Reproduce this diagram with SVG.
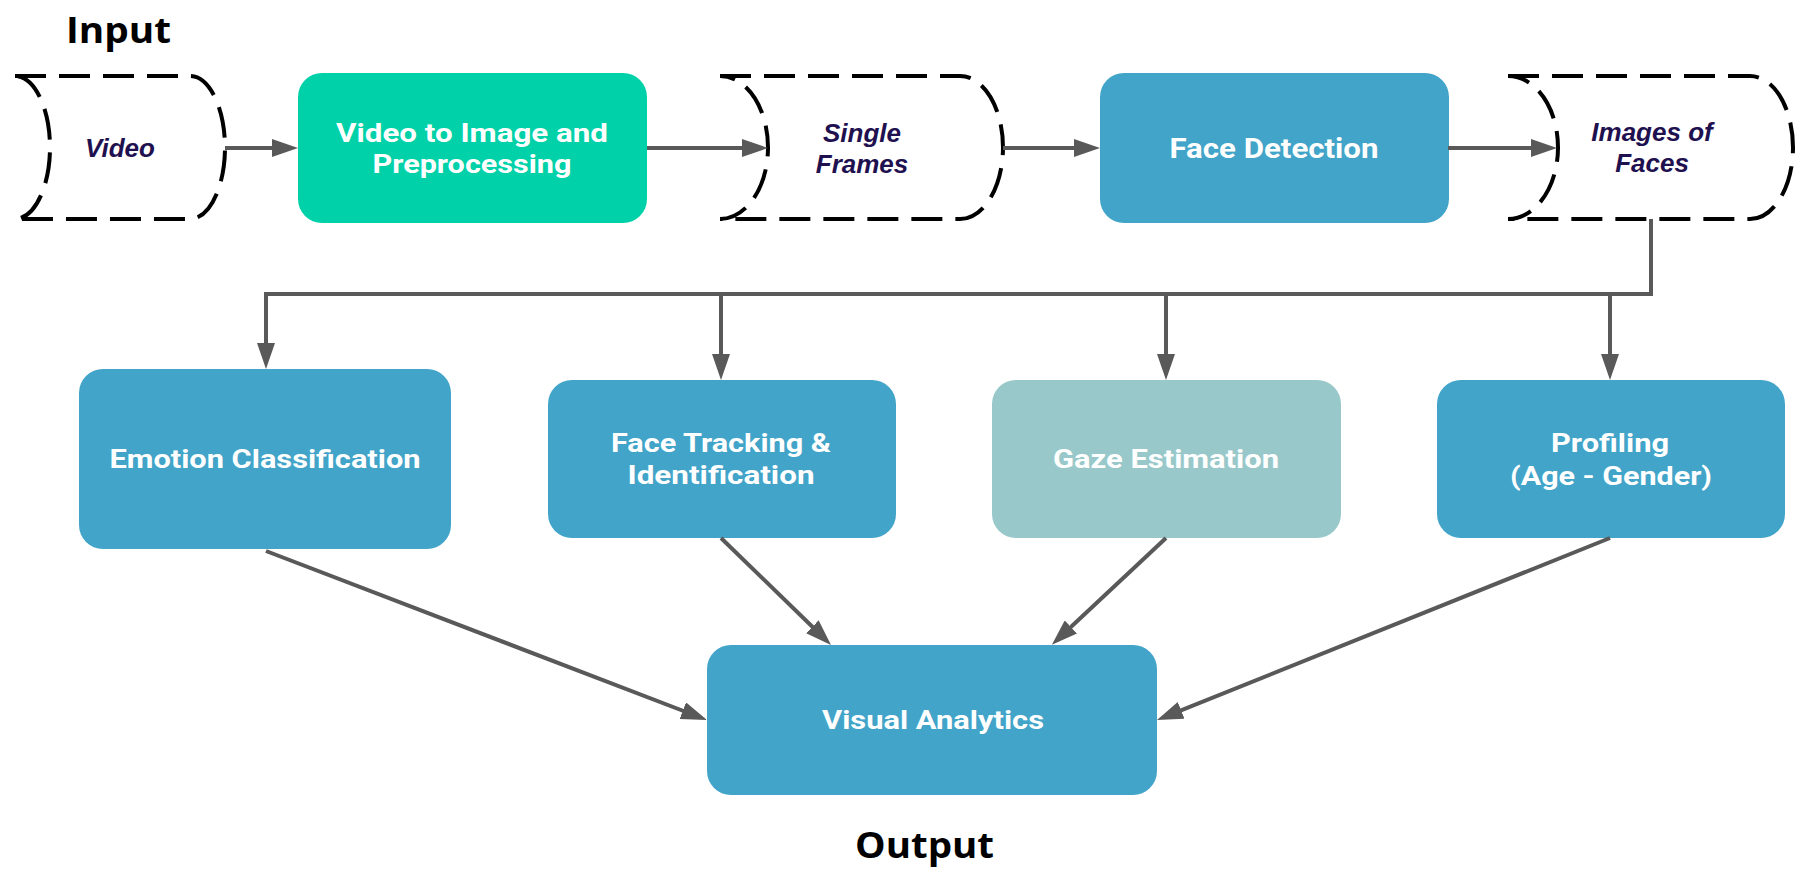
<svg xmlns="http://www.w3.org/2000/svg" width="1818" height="881" viewBox="0 0 1818 881">
<style>
.store{fill:none;stroke:#000;stroke-width:4;stroke-dasharray:31 13}
.ital{font-family:"Liberation Sans",Arial,sans-serif;font-weight:bold;font-style:italic;font-size:26px;fill:#1f1150;text-anchor:middle}
.lbl{font-family:Roboto,"Open Sans",sans-serif;font-weight:bold;font-size:26px;fill:#fff;text-anchor:middle}
.big{font-size:27px}
.title{font-family:"Open Sans","Noto Sans",sans-serif;font-weight:bold;font-size:36px;fill:#000}
.blue{fill:#41a4c8}
.conn{fill:none;stroke:#595959;stroke-width:4}
</style>
<defs>
<marker id="ah" markerUnits="userSpaceOnUse" markerWidth="26" markerHeight="18" refX="19" refY="9" orient="auto">
<path d="M0,0 L26,9 L0,18 Z" fill="#595959"/>
</marker>
</defs>
<rect width="1818" height="881" fill="#fff"/>
<text class="title" x="66" y="43" textLength="105" lengthAdjust="spacingAndGlyphs">Input</text>
<text class="title" x="855" y="858" textLength="139" lengthAdjust="spacingAndGlyphs">Output</text>
<g id="video">
<path class="store" d="M15,76 H190 A35,71.5 0 0 1 190,219 H15 A35,71.5 0 0 0 15,76 Z"/>
<text class="ital" x="120" y="157">Video</text>
</g>
<g id="preprocess">
<rect x="298" y="73" width="349" height="150" rx="24" fill="#00d1a8"/>
<text class="lbl" x="472" y="142" textLength="272" lengthAdjust="spacingAndGlyphs">Video to Image and</text>
<text class="lbl" x="472" y="173" textLength="199" lengthAdjust="spacingAndGlyphs">Preprocessing</text>
</g>
<g id="frames">
<path class="store" d="M720,76 H960 A43,71.5 0 0 1 960,219 H720 A48,71.5 0 0 0 720,76 Z"/>
<text class="ital" x="862" y="142">Single</text>
<text class="ital" x="862" y="173">Frames</text>
</g>
<g id="facedet">
<rect x="1100" y="73" width="349" height="150" rx="24" class="blue"/>
<text class="lbl big" x="1274" y="158" textLength="209" lengthAdjust="spacingAndGlyphs">Face Detection</text>
</g>
<g id="faces">
<path class="store" d="M1508,76 H1750 A43,71.5 0 0 1 1750,219 H1508 A50,71.5 0 0 0 1508,76 Z"/>
<text class="ital" x="1652" y="141">Images of</text>
<text class="ital" x="1652" y="172">Faces</text>
</g>
<g id="emotion">
<rect x="79" y="369" width="372" height="180" rx="24" class="blue"/>
<text class="lbl" x="265" y="468" textLength="311" lengthAdjust="spacingAndGlyphs">Emotion Classification</text>
</g>
<g id="tracking">
<rect x="548" y="380" width="348" height="158" rx="24" class="blue"/>
<text class="lbl" x="721" y="452" textLength="220" lengthAdjust="spacingAndGlyphs">Face Tracking &amp;</text>
<text class="lbl" x="721" y="484" textLength="187" lengthAdjust="spacingAndGlyphs">Identification</text>
</g>
<g id="gaze">
<rect x="992" y="380" width="349" height="158" rx="24" fill="#98c8ca"/>
<text class="lbl" x="1166" y="468" textLength="226" lengthAdjust="spacingAndGlyphs">Gaze Estimation</text>
</g>
<g id="profiling">
<rect x="1437" y="380" width="348" height="158" rx="24" class="blue"/>
<text class="lbl" x="1610" y="452" textLength="118" lengthAdjust="spacingAndGlyphs">Profiling</text>
<text class="lbl" x="1611" y="485" textLength="202" lengthAdjust="spacingAndGlyphs">(Age - Gender)</text>
</g>
<g id="analytics">
<rect x="707" y="645" width="450" height="150" rx="24" class="blue"/>
<text class="lbl" x="933" y="729" textLength="222" lengthAdjust="spacingAndGlyphs">Visual Analytics</text>
</g>
<g id="connectors">
<path class="conn" d="M225,148 H291" marker-end="url(#ah)"/>
<path class="conn" d="M647,148 H761" marker-end="url(#ah)"/>
<path class="conn" d="M1003,148 H1093" marker-end="url(#ah)"/>
<path class="conn" d="M1448,148 H1550" marker-end="url(#ah)"/>
<path class="conn" d="M1651,219 V294 H266 V362" marker-end="url(#ah)"/>
<path class="conn" d="M721,294 V373" marker-end="url(#ah)"/>
<path class="conn" d="M1166,294 V373" marker-end="url(#ah)"/>
<path class="conn" d="M1610,294 V373" marker-end="url(#ah)"/>
<path class="conn" d="M266,551 L700.5,717.5" marker-end="url(#ah)"/>
<path class="conn" d="M721,538 L826,640" marker-end="url(#ah)"/>
<path class="conn" d="M1166,538 L1057,640" marker-end="url(#ah)"/>
<path class="conn" d="M1610,538 L1163.5,717.4" marker-end="url(#ah)"/>
</g>
</svg>
